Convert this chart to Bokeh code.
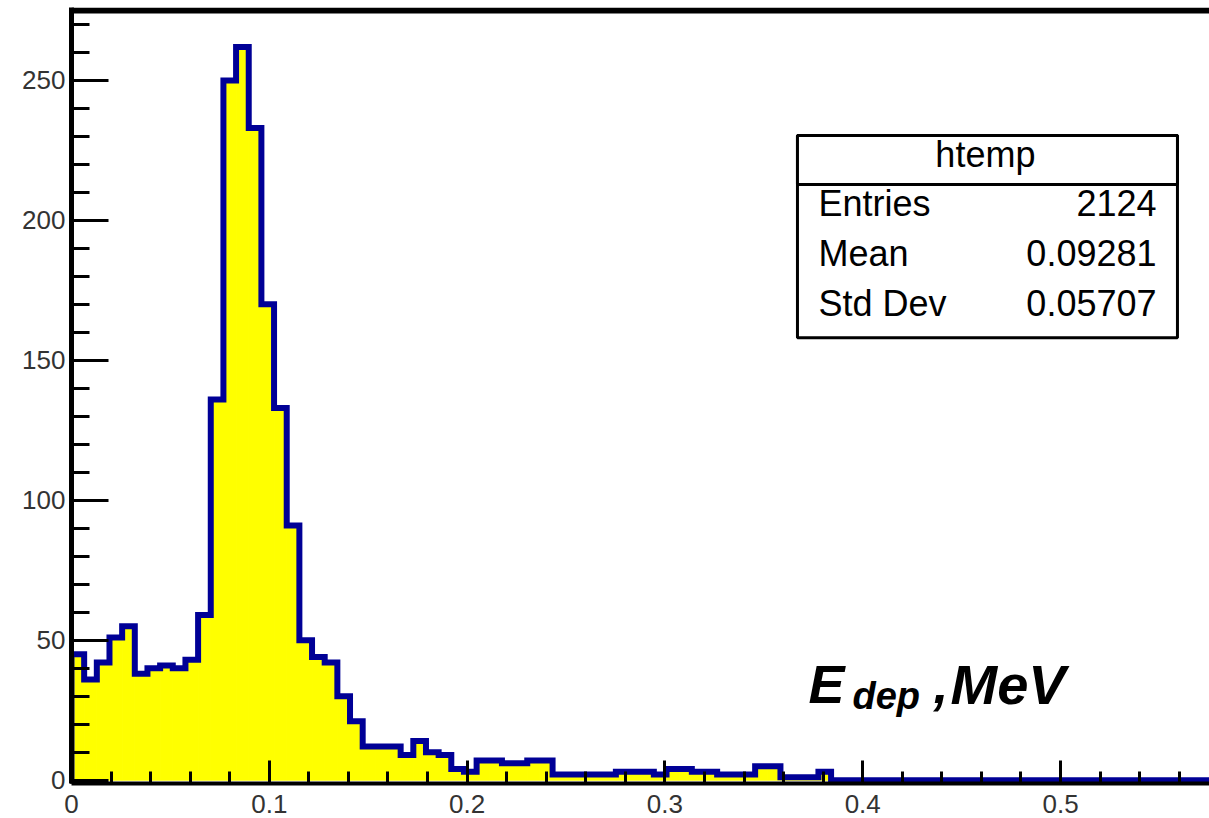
from bokeh.plotting import figure
from bokeh.models import (Range1d, SingleIntervalTicker, CustomJSTickFormatter,
                          BoxAnnotation, Label, Span)
from bokeh.embed import file_html
from bokeh.resources import INLINE

# ---- data ----
bin_width = 0.0064
counts = [45, 36, 42, 51, 55, 38, 40, 41, 40, 43,
          59, 136, 250, 262, 233, 170, 133, 91, 50, 44,
          42, 30, 21, 12, 12, 12, 9, 14, 10, 9,
          4, 3, 7, 7, 6, 6, 7, 7, 2, 2,
          2, 2, 2, 3, 3, 3, 2, 4, 4, 3,
          3, 2, 2, 2, 5, 5, 1, 1, 1, 3,
          0, 0, 0, 0, 0, 0, 0, 0, 0, 0,
          0, 0, 0, 0, 0, 0, 0, 0, 0, 0,
          0, 0, 0, 0, 0, 0, 0, 0, 0, 0]
x_major_ticks = [0, 0.1, 0.2, 0.3, 0.4, 0.5]
y_major_ticks = [0, 50, 100, 150, 200, 250]
stats_title = "htemp"
stats_names = ["Entries", "Mean", "Std Dev"]
stats_values = ["2124", "0.09281", "0.05707"]

left_edges = [i * bin_width for i in range(len(counts))]
right_edges = [(i + 1) * bin_width for i in range(len(counts))]

# step outline
step_x = [0.0] + left_edges + [right_edges[-1]]
step_y = [0] + counts + [counts[-1]]

FONT = "Liberation Sans"
YEL = "#ffff00"
BLUE = "#000096"

p = figure(width=1209, height=818, output_backend="svg", toolbar_location=None,
           x_range=Range1d(0, 0.5753), y_range=Range1d(-1.2, 276.07),
           min_border_left=71, min_border_right=0, min_border_top=7,
           min_border_bottom=35)
p.background_fill_color = "white"
p.border_fill_color = "white"
p.outline_line_color = None
p.grid.visible = False

p.quad(left=left_edges, right=right_edges, top=counts, bottom=0,
       fill_color=YEL, line_color=YEL, line_width=1)
p.step(x=step_x, y=step_y, mode="after", line_color=BLUE, line_width=6,
       line_join="miter")

fmt = CustomJSTickFormatter(code="return Number(tick.toFixed(4)).toString();")

xa = p.xaxis[0]
xa.ticker = SingleIntervalTicker(interval=0.1, num_minor_ticks=5)
xa.formatter = fmt
xa.major_tick_in = 23
xa.major_tick_out = 0
xa.minor_tick_in = 12
xa.minor_tick_out = 0
xa.axis_line_width = 4
xa.axis_line_color = "black"
xa.major_tick_line_width = 3
xa.minor_tick_line_width = 3
xa.major_label_text_font = FONT
xa.major_label_text_font_size = "26px"
xa.major_label_text_color = "#333333"
xa.major_label_standoff = 11

ya = p.yaxis[0]
ya.ticker = SingleIntervalTicker(interval=50, num_minor_ticks=5)
ya.formatter = fmt
ya.major_tick_in = 37
ya.major_tick_out = 0
ya.minor_tick_in = 18
ya.minor_tick_out = 0
ya.axis_line_width = 5
ya.axis_line_color = "black"
ya.major_tick_line_width = 3
ya.minor_tick_line_width = 3
ya.major_label_text_font = FONT
ya.major_label_text_font_size = "26px"
ya.major_label_text_color = "#333333"
ya.major_label_standoff = 6

# top frame line
p.add_layout(Span(location=275, dimension="width", line_color="black", line_width=6))

# stats box
box_l, box_r, box_t, box_b, box_div = 0.3670, 0.5591, 230.3, 158.1, 212.8
p.add_layout(BoxAnnotation(left=box_l, right=box_r, top=box_t, bottom=box_b,
                           fill_color="white", fill_alpha=1.0,
                           line_color="black", line_alpha=1.0, line_width=3))
p.add_layout(BoxAnnotation(left=box_l, right=box_r, top=box_t, bottom=box_div,
                           fill_color="white", fill_alpha=1.0,
                           line_color="black", line_alpha=1.0, line_width=3))
p.add_layout(Label(x=0.4620, y=223.4, text=stats_title, text_font=FONT,
                   text_font_size="36px", text_align="center",
                   text_baseline="middle", text_color="black"))
row_y = [206.1, 188.3, 170.4]
for name, val, yy in zip(stats_names, stats_values, row_y):
    p.add_layout(Label(x=0.3776, y=yy, text=name, text_font=FONT,
                       text_font_size="36px", text_align="left",
                       text_baseline="middle", text_color="black"))
    p.add_layout(Label(x=0.5485, y=yy, text=val, text_font=FONT,
                       text_font_size="36px", text_align="right",
                       text_baseline="middle", text_color="black"))

# axis title  E_dep , MeV
p.add_layout(Label(x=0.3726, y=34.3, text="E", text_font=FONT,
                   text_font_size="54px", text_font_style="bold italic",
                   text_baseline="middle", text_color="black"))
p.add_layout(Label(x=0.3948, y=30.2, text="dep", text_font=FONT,
                   text_font_size="38px", text_font_style="bold italic",
                   text_baseline="middle", text_color="black"))
p.add_layout(Label(x=0.4358, y=34.3, text=",", text_font=FONT,
                   text_font_size="54px", text_font_style="bold italic",
                   text_baseline="middle", text_color="black"))
p.add_layout(Label(x=0.4444, y=34.3, text="MeV", text_font=FONT,
                   text_font_size="56px", text_font_style="bold italic",
                   text_baseline="middle", text_color="black"))

open("out.html", "w").write(file_html(p, INLINE))
